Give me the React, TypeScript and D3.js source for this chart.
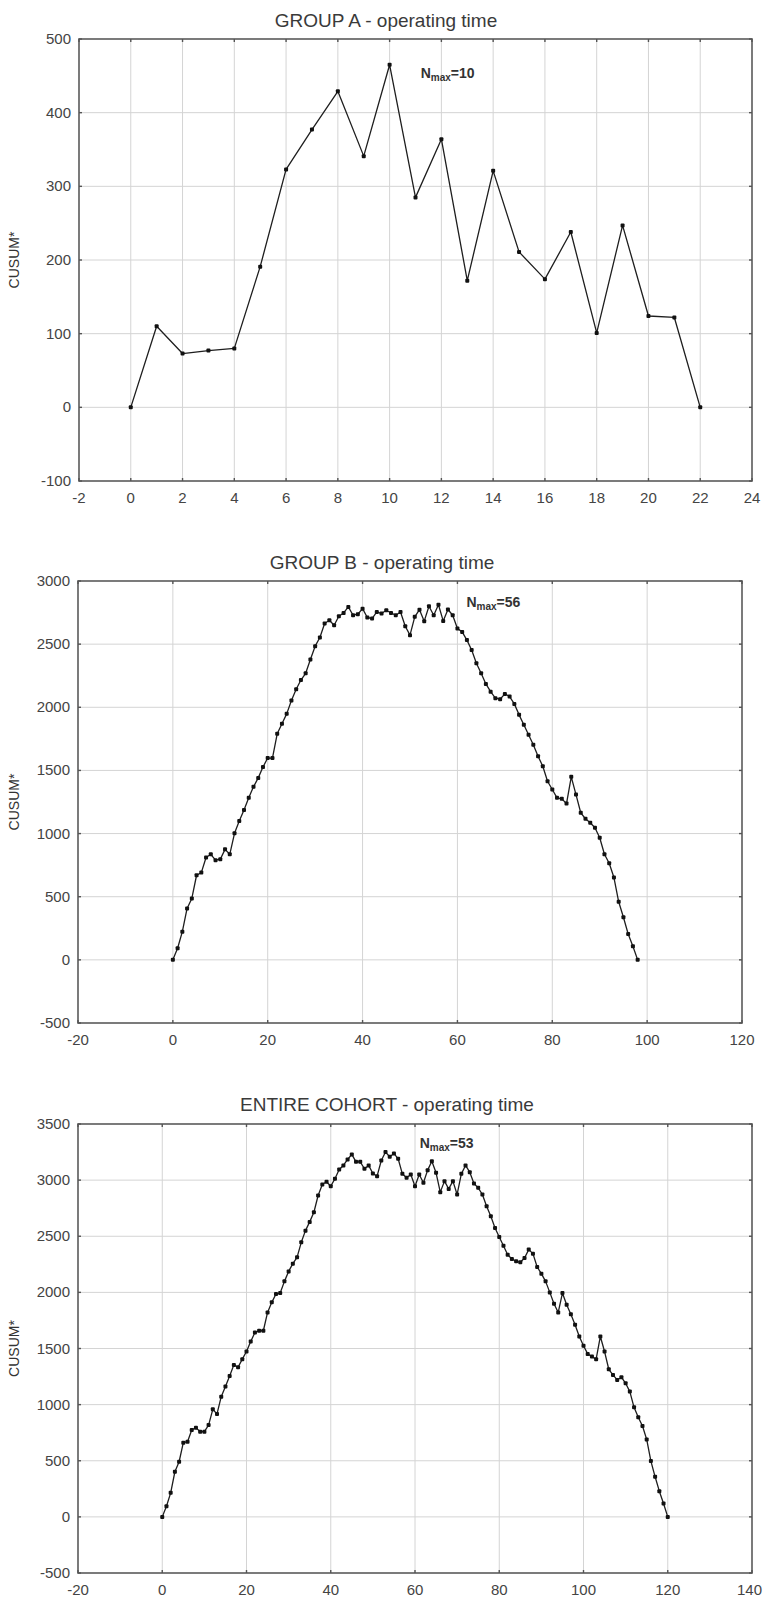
import React from "react";
import * as d3 from "d3";

// CUSUM* of operating time, one value per consecutive case (x = case index)
const groupAValues = [0, 110, 73, 77, 80, 191, 323, 377, 429, 341, 465, 285, 364, 172, 321, 211, 174, 238, 101, 247, 124, 122, 0];

const groupBValues = [
  0, 92, 223, 407, 486, 670, 691, 810, 836, 789, 797, 875, 836, 1002, 1099, 1186, 1283, 1370, 1441, 1527,
  1598, 1598, 1790, 1869, 1948, 2053, 2143, 2216, 2269, 2379, 2484, 2553, 2663, 2689, 2650, 2721, 2747, 2795, 2729, 2737,
  2781, 2711, 2703, 2755, 2742, 2768, 2747, 2729, 2755, 2642, 2571, 2716, 2773, 2682, 2800, 2729, 2812, 2684, 2774, 2729,
  2624, 2597, 2532, 2453, 2348, 2269, 2185, 2124, 2072, 2064, 2106, 2085, 2027, 1940, 1861, 1782, 1704, 1612, 1533, 1414,
  1349, 1283, 1275, 1238, 1449, 1309, 1165, 1117, 1086, 1046, 967, 836, 765, 652, 460, 337, 205, 108, 0,
];

const cohortValues = [
  0, 95, 214, 402, 491, 661, 670, 774, 795, 759, 759, 818, 958, 917, 1071, 1161, 1256, 1354, 1333, 1405,
  1473, 1562, 1643, 1658, 1658, 1821, 1911, 1985, 1994, 2098, 2187, 2256, 2312, 2446, 2550, 2628, 2714, 2863, 2961, 2985,
  2946, 3012, 3095, 3131, 3184, 3229, 3163, 3163, 3101, 3131, 3059, 3035, 3175, 3250, 3208, 3238, 3190, 3056, 3021, 3050,
  2946, 3050, 2976, 3089, 3169, 3065, 2893, 2991, 2922, 2991, 2872, 3056, 3131, 3071, 2970, 2931, 2872, 2768, 2678, 2574,
  2494, 2416, 2336, 2297, 2277, 2268, 2306, 2381, 2345, 2226, 2167, 2098, 2000, 1899, 1821, 1994, 1890, 1806, 1711, 1607,
  1524, 1452, 1428, 1405, 1607, 1473, 1315, 1265, 1220, 1244, 1190, 1116, 976, 887, 809, 690, 497, 357, 229, 119, 0,
];

// Axis ticks
const groupAXTicks = [-2, 0, 2, 4, 6, 8, 10, 12, 14, 16, 18, 20, 22, 24];
const groupAYTicks = [-100, 0, 100, 200, 300, 400, 500];
const groupBXTicks = [-20, 0, 20, 40, 60, 80, 100, 120];
const groupBYTicks = [-500, 0, 500, 1000, 1500, 2000, 2500, 3000];
const cohortXTicks = [-20, 0, 20, 40, 60, 80, 100, 120, 140];
const cohortYTicks = [-500, 0, 500, 1000, 1500, 2000, 2500, 3000, 3500];

// Case number at which the CUSUM peaks
const groupANmax = 10;
const groupBNmax = 56;
const cohortNmax = 53;

const FONT = "'Liberation Sans', Arial, sans-serif";
const WIDTH = 763;
const HEIGHT = 1598;

type Box = { left: number; right: number; top: number; bottom: number; titleX: number; titleY: number };

type PanelProps = {
  box: Box;
  title: string;
  values: number[];
  xTicks: number[];
  yTicks: number[];
  nmax: number;
  nmaxAt: [number, number];
};

function Panel({ box, title, values, xTicks, yTicks, nmax, nmaxAt }: PanelProps) {
  const x = d3
    .scaleLinear()
    .domain([xTicks[0], xTicks[xTicks.length - 1]])
    .range([box.left, box.right]);
  const y = d3
    .scaleLinear()
    .domain([yTicks[0], yTicks[yTicks.length - 1]])
    .range([box.bottom, box.top]);

  const path = d3
    .line<number>()
    .x((_, i) => x(i))
    .y((d) => y(d))(values) as string;

  const midY = (box.top + box.bottom) / 2;
  const tick = 3;

  // keep the last x label inside the page edge
  const xLabelPos = (t: number) => {
    const cx = x(t);
    const halfWidth = String(t).length * 4.3;
    return cx + halfWidth > WIDTH - 1
      ? { x: WIDTH - 1, anchor: "end" as const }
      : { x: cx, anchor: "middle" as const };
  };

  return (
    <g>
      <text
        x={box.titleX}
        y={box.titleY}
        textAnchor="middle"
        fontFamily={FONT}
        fontSize={19}
        fill="#3a3a3a"
      >
        {title}
      </text>

      {/* grid */}
      {xTicks.slice(1, -1).map((t) => (
        <line key={"gx" + t} x1={x(t)} x2={x(t)} y1={box.top} y2={box.bottom} stroke="#d4d4d4" strokeWidth={1} />
      ))}
      {yTicks.slice(1, -1).map((t) => (
        <line key={"gy" + t} x1={box.left} x2={box.right} y1={y(t)} y2={y(t)} stroke="#d4d4d4" strokeWidth={1} />
      ))}

      {/* frame */}
      <rect
        x={box.left}
        y={box.top}
        width={box.right - box.left}
        height={box.bottom - box.top}
        fill="none"
        stroke="#5a5a5a"
        strokeWidth={1.6}
      />

      {/* inward ticks */}
      {xTicks.map((t) => (
        <g key={"tx" + t}>
          <line x1={x(t)} x2={x(t)} y1={box.bottom} y2={box.bottom - tick} stroke="#555" strokeWidth={1.4} />
          <line x1={x(t)} x2={x(t)} y1={box.top} y2={box.top + tick} stroke="#555" strokeWidth={1.4} />
        </g>
      ))}
      {yTicks.map((t) => (
        <g key={"ty" + t}>
          <line x1={box.left} x2={box.left + tick} y1={y(t)} y2={y(t)} stroke="#555" strokeWidth={1.4} />
          <line x1={box.right} x2={box.right - tick} y1={y(t)} y2={y(t)} stroke="#555" strokeWidth={1.4} />
        </g>
      ))}

      {/* tick labels */}
      {xTicks.map((t) => {
        const p = xLabelPos(t);
        return (
          <text
            key={"lx" + t}
            x={p.x}
            y={box.bottom + 22}
            textAnchor={p.anchor}
            fontFamily={FONT}
            fontSize={15}
            fill="#444"
          >
            {t}
          </text>
        );
      })}
      {yTicks.map((t) => (
        <text
          key={"ly" + t}
          x={box.left - 8}
          y={y(t) + 5}
          textAnchor="end"
          fontFamily={FONT}
          fontSize={15}
          fill="#444"
        >
          {t}
        </text>
      ))}

      <text
        transform={`translate(19,${midY}) rotate(-90)`}
        textAnchor="middle"
        fontFamily={FONT}
        fontSize={14}
        fill="#333"
      >
        CUSUM*
      </text>

      {/* series */}
      <path d={path} fill="none" stroke="#1e1e1e" strokeWidth={1.3} strokeLinejoin="round" />
      {values.map((v, i) => (
        <rect key={"m" + i} x={x(i) - 2} y={y(v) - 2} width={4} height={4} rx={1} fill="#111" />
      ))}

      <text x={x(nmaxAt[0])} y={y(nmaxAt[1])} fontFamily={FONT} fontSize={14} fontWeight="bold" fill="#333">
        N
        <tspan fontSize={10} dy={3}>
          max
        </tspan>
        <tspan dy={-3}>={nmax}</tspan>
      </text>
    </g>
  );
}

export default function App() {
  return (
    <svg
      width={WIDTH}
      height={HEIGHT}
      viewBox={`0 0 ${WIDTH} ${HEIGHT}`}
      style={{ position: "absolute", left: 0, top: 0, display: "block", background: "#fff" }}
    >
      <rect width={WIDTH} height={HEIGHT} fill="#fff" />
      <Panel
        box={{ left: 79, right: 752, top: 39, bottom: 481, titleX: 386, titleY: 27 }}
        title="GROUP A - operating time"
        values={groupAValues}
        xTicks={groupAXTicks}
        yTicks={groupAYTicks}
        nmax={groupANmax}
        nmaxAt={[11.2, 447]}
      />
      <Panel
        box={{ left: 78, right: 742, top: 581, bottom: 1023, titleX: 382, titleY: 569 }}
        title="GROUP B - operating time"
        values={groupBValues}
        xTicks={groupBXTicks}
        yTicks={groupBYTicks}
        nmax={groupBNmax}
        nmaxAt={[61.9, 2795]}
      />
      <Panel
        box={{ left: 78, right: 752, top: 1124, bottom: 1573, titleX: 387, titleY: 1111 }}
        title="ENTIRE COHORT - operating time"
        values={cohortValues}
        xTicks={cohortXTicks}
        yTicks={cohortYTicks}
        nmax={cohortNmax}
        nmaxAt={[61.1, 3290]}
      />
    </svg>
  );
}
